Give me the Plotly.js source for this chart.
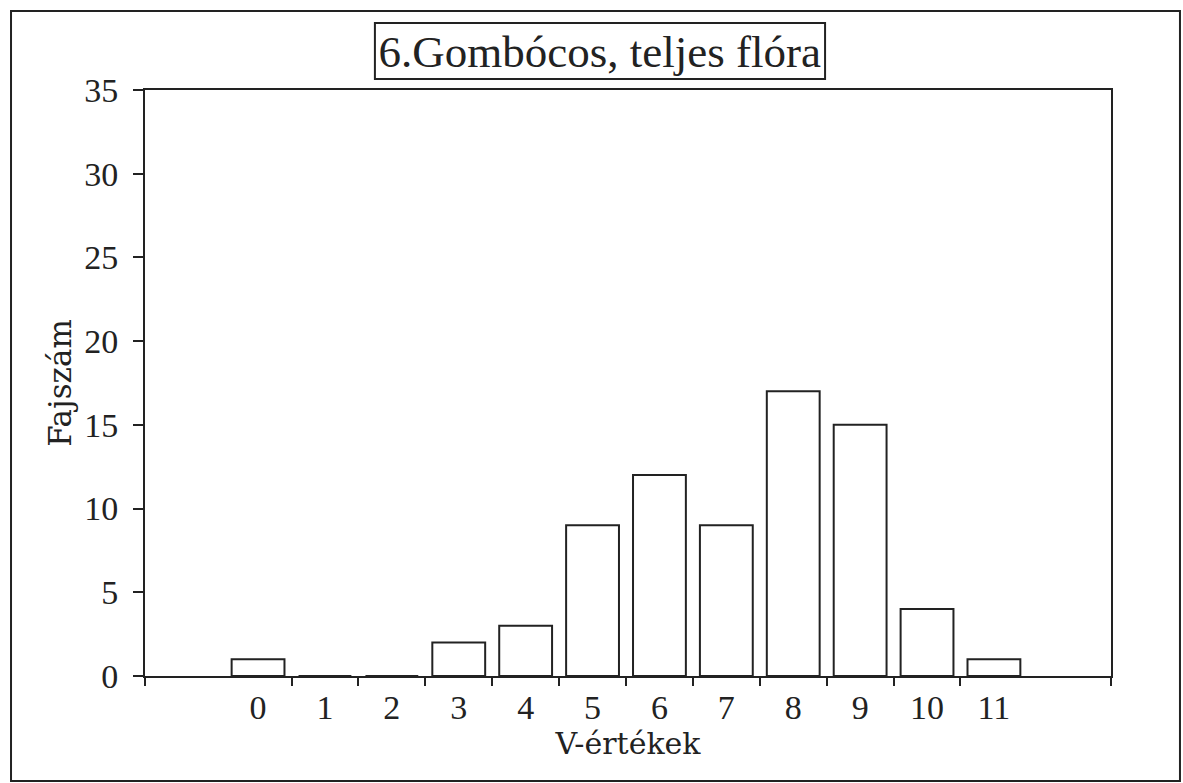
<!DOCTYPE html>
<html>
<head>
<meta charset="utf-8">
<script src="https://cdn.plot.ly/plotly-3.0.1.min.js"></script>
<style>html,body{margin:0;padding:0;background:#fff;}#chart{width:1183px;height:783px;}</style>
</head>
<body>
<div id="chart"></div>
<script>
const categories = [0, 1, 2, 3, 4, 5, 6, 7, 8, 9, 10, 11];
const tickLabels = ["0", "1", "2", "3", "4", "5", "6", "7", "8", "9", "10", "11"];
const speciesCount = [1, 0, 0, 2, 3, 9, 12, 9, 17, 15, 4, 1];
const yTicks = [0, 5, 10, 15, 20, 25, 30, 35];

const serif = "Liberation Serif, Times New Roman, serif";
const wideSerif = "DejaVu Serif, serif";
const xRange = [-1.69, 12.75];

// tick marks sit on the boundaries between neighbouring categories and at the axis ends
const boundaries = categories.slice(0, -1).map((c, i) => (c + categories[i + 1]) / 2);
const xTickMarks = [xRange[0]].concat(boundaries, [xRange[1]]);

const trace = {
  type: "bar",
  x: categories,
  y: speciesCount,
  width: 0.79,
  marker: {color: "#ffffff", line: {color: "#222222", width: 2}},
  hoverinfo: "x+y",
  showlegend: false
};

const layout = {
  width: 1183,
  height: 783,
  margin: {l: 145, r: 72, t: 90, b: 107},
  paper_bgcolor: "#ffffff",
  plot_bgcolor: "#ffffff",
  font: {family: serif, color: "#222222"},
  title: {
    text: "6.Gombócos, teljes flóra",
    font: {family: serif, size: 45, color: "#222222"},
    x: 0.507, xref: "container", xanchor: "center",
    y: 0.935, yref: "container", yanchor: "middle"
  },
  xaxis: {
    range: xRange,
    tickvals: categories,
    ticktext: tickLabels,
    ticks: "",
    showgrid: false,
    zeroline: false,
    showline: true,
    linecolor: "#222222",
    linewidth: 2,
    mirror: true,
    tickfont: {family: serif, size: 34, color: "#222222"},
    title: {text: "V-értékek", font: {family: wideSerif, size: 30, color: "#222222"}, standoff: 2}
  },
  xaxis2: {
    overlaying: "x",
    range: xRange,
    tickvals: xTickMarks,
    ticktext: xTickMarks.map(() => ""),
    ticks: "outside",
    ticklen: 9,
    tickwidth: 2,
    tickcolor: "#222222",
    showgrid: false,
    zeroline: false,
    showline: false,
    side: "bottom"
  },
  yaxis: {
    range: [0, 35],
    tickvals: yTicks,
    ticks: "outside",
    ticklen: 10,
    tickwidth: 2,
    tickcolor: "#222222",
    ticklabelstandoff: 8,
    showgrid: false,
    zeroline: false,
    showline: true,
    linecolor: "#222222",
    linewidth: 2,
    mirror: true,
    tickfont: {family: serif, size: 34, color: "#222222"},
    title: {text: "Fajszám", font: {family: wideSerif, size: 31, color: "#222222"}, standoff: 3}
  },
  shapes: [
    {type: "rect", xref: "paper", yref: "paper", x0: -0.1387, x1: 1.0714, y0: -0.1792, y1: 1.1348,
     line: {color: "#222222", width: 2}, fillcolor: "rgba(0,0,0,0)"},
    {type: "rect", xref: "paper", yref: "paper", x0: 0.238, x1: 0.704, y0: 1.0188, y1: 1.1143,
     line: {color: "#222222", width: 2}, fillcolor: "rgba(0,0,0,0)"}
  ]
};

const trace2 = {type: "scatter", x: [], y: [], xaxis: "x2", yaxis: "y", showlegend: false, hoverinfo: "skip"};

Plotly.newPlot("chart", [trace, trace2], layout, {displayModeBar: false, staticPlot: true});
</script>
</body>
</html>
